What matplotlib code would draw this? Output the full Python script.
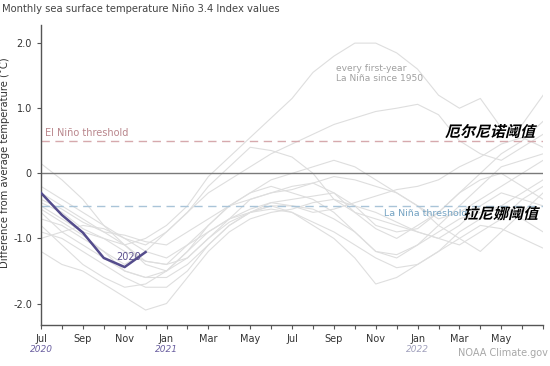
import numpy as np
import matplotlib.pyplot as plt
from matplotlib.textpath import TextPath
from matplotlib.patches import PathPatch
from matplotlib.font_manager import FontProperties
from matplotlib.transforms import Affine2D

plt.rcParams['font.family'] = ['DejaVu Sans', 'Noto Sans CJK SC']

# months since Jul 2020 (0 .. 24)
months = np.arange(25)
tick_labels = ['Jul', 'Sep', 'Nov', 'Jan', 'Mar', 'May',
               'Jul', 'Sep', 'Nov', 'Jan', 'Mar', 'May']
year_labels = {0: '2020', 6: '2021', 18: '2022'}

# 2020 La Nina (Jul-Dec 2020)
nino_2020 = [-0.30, -0.64, -0.91, -1.30, -1.44, -1.21]

# every first-year La Nina since 1950 (approximate)
past_years = [
    [-0.50, -0.70, -0.90, -1.00, -1.10, -1.00, -0.80, -0.50, -0.05, 0.25, 0.55, 0.85,
     1.15, 1.55, 1.80, 2.00, 2.00, 1.85, 1.60, 1.20, 1.00, 1.15, 0.70, 0.75, 1.20],
    [-0.20, -0.40, -0.60, -0.80, -1.00, -1.10, -0.90, -0.60, -0.30, -0.10, 0.10, 0.30,
     0.45, 0.60, 0.75, 0.85, 0.95, 1.00, 1.06, 0.90, 0.50, 0.30, 0.20, 0.40, 0.60],
    [-0.70, -0.80, -1.00, -1.20, -1.40, -1.20, -0.90, -0.60, -0.20, 0.10, 0.40, 0.35,
     0.25, 0.00, -0.40, -0.60, -0.70, -0.80, -0.90, -1.00, -1.10, -0.90, -0.70, -0.40, -0.20],
    [0.15, -0.10, -0.40, -0.80, -1.10, -1.40, -1.50, -1.20, -0.80, -0.50, -0.30, -0.20,
     -0.30, -0.40, -0.60, -0.90, -1.20, -1.30, -1.10, -0.80, -0.50, -0.20, 0.10, 0.20, 0.30],
    [-0.40, -0.55, -0.75, -0.90, -0.95, -1.05, -1.10, -0.90, -0.70, -0.50, -0.40, -0.30,
     -0.25, -0.15, -0.05, -0.10, -0.20, -0.30, -0.50, -0.70, -0.60, -0.40, -0.20, 0.00, 0.20],
    [-0.60, -0.90, -1.10, -1.30, -1.50, -1.60, -1.60, -1.40, -1.10, -0.80, -0.60, -0.50,
     -0.60, -0.80, -1.00, -1.30, -1.70, -1.60, -1.40, -1.20, -0.90, -0.70, -0.50, -0.30, -0.10],
    [-0.80, -1.10, -1.40, -1.60, -1.75, -1.70, -1.50, -1.20, -0.90, -0.70, -0.55, -0.45,
     -0.40, -0.35, -0.30, -0.50, -0.80, -0.90, -0.85, -0.60, -0.30, 0.00, 0.30, 0.50, 0.80],
    [-1.20, -1.40, -1.50, -1.70, -1.90, -2.10, -2.00, -1.60, -1.20, -0.90, -0.70, -0.60,
     -0.55, -0.45, -0.40, -0.50, -0.60, -0.75, -0.90, -1.00, -0.80, -0.50, -0.30, -0.40, -0.50],
    [-0.45, -0.60, -0.85, -1.00, -1.20, -1.35, -1.40, -1.30, -1.00, -0.70, -0.40, -0.30,
     -0.20, -0.15, -0.30, -0.60, -0.85, -1.00, -0.80, -0.60, -0.30, -0.10, 0.00, -0.20, -0.40],
    [-0.90, -1.00, -1.20, -1.40, -1.60, -1.75, -1.75, -1.50, -1.10, -0.80, -0.60, -0.50,
     -0.50, -0.55, -0.70, -0.90, -1.20, -1.25, -1.10, -0.90, -0.70, -0.60, -0.50, -0.70, -0.90],
    [-0.30, -0.50, -0.70, -0.90, -1.10, -1.35, -1.40, -1.10, -0.80, -0.50, -0.30, -0.10,
     0.00, 0.10, 0.20, 0.10, -0.10, -0.30, -0.50, -0.80, -1.00, -1.20, -0.90, -0.60, -0.30],
    [-1.00, -0.90, -0.80, -0.85, -1.00, -1.20, -1.30, -1.10, -0.90, -0.70, -0.60, -0.45,
     -0.50, -0.60, -0.55, -0.45, -0.35, -0.25, -0.20, -0.10, 0.10, 0.25, 0.45, 0.55, 0.40],
    [-0.55, -0.75, -0.95, -1.20, -1.50, -1.60, -1.50, -1.30, -1.00, -0.75, -0.60, -0.55,
     -0.60, -0.75, -0.90, -1.10, -1.30, -1.45, -1.40, -1.20, -1.00, -0.80, -0.85, -1.00, -1.15],
]

el_nino_threshold = 0.5
la_nina_threshold = -0.5

W, H = 550, 366
fig = plt.figure(figsize=(W / 100, H / 100), dpi=100)
ax = fig.add_axes([0.0745, 0.112, 0.913, 0.820])

for vals in past_years:
    ax.plot(months, vals, color='#dedede', lw=0.8, zorder=1)

ax.axhline(0, color='#7a7a7a', lw=1.0, zorder=2)
ax.axhline(el_nino_threshold, color='#d6a9ad', lw=1.0, ls=(0, (6, 4)), zorder=2)
ax.axhline(la_nina_threshold, color='#a9c4d8', lw=1.0, ls=(0, (6, 4)), zorder=2)

ax.plot(months[:len(nino_2020)], nino_2020, color='#544c8c', lw=1.8, zorder=3)
ax.text(3.6, -1.28, '2020', color='#5a4e8c', fontsize=7, ha='left', va='center', zorder=4)

ax.text(0.2, 0.55, 'El Niño threshold', color='#b9868c', fontsize=7, va='bottom')
ax.text(16.4, -0.62, 'La Niña threshold', color='#73a2c2', fontsize=6.8, va='center')
ax.text(14.1, 1.38, 'every first-year\nLa Niña since 1950', color='#a0a0a0',
        fontsize=6.6, va='bottom', linespacing=1.25)


def slanted_label(text, right_px, center_px, size_px=15):
    # 粗体中文，斜切成斜体效果，用图像像素定位（从左上角量）
    prop = FontProperties(family='Noto Sans CJK SC', weight='bold')
    path = TextPath((0, 0), text, size=size_px, prop=prop)
    path = Affine2D().skew_deg(14, 0).transform_path(path)
    ext = path.get_extents()
    dx = right_px - ext.x1
    dy = (H - center_px) - (ext.y0 + ext.y1) / 2
    patch = PathPatch(path, facecolor='black', edgecolor='none',
                      transform=Affine2D().translate(dx, dy), zorder=6)
    fig.add_artist(patch)


slanted_label('厄尔尼诺阈值', 537, 131)
slanted_label('拉尼娜阈值', 540, 213)

ax.set_xlim(0, 24)
ax.set_ylim(-2.33, 2.28)
ax.set_xticks(np.arange(0, 24, 2))
ax.set_xticklabels(tick_labels)
ax.set_xticks(np.arange(0, 25, 1), minor=True)
ax.set_yticks([2, 1, 0, -1, -2])
ax.set_yticklabels(['2.0', '1.0', '0', '-1.0', '-2.0'])

for s in ['top', 'right']:
    ax.spines[s].set_visible(False)
for s in ['left', 'bottom']:
    ax.spines[s].set_color('#555555')
    ax.spines[s].set_linewidth(1.0)
ax.tick_params(axis='both', colors='#555555', labelcolor='#333333', labelsize=7,
               length=3, width=0.8)
ax.tick_params(axis='x', which='minor', length=3, width=0.8, colors='#555555')

for m, yr in year_labels.items():
    c = '#6a5fa0' if yr != '2022' else '#a0a0bc'
    ax.text(m, -2.7, yr, color=c, fontsize=6.5, style='italic', ha='center', va='center',
            clip_on=False)

ax.set_ylabel('Difference from average temperature (˚C)', fontsize=7.2, color='#333333')
ax.yaxis.set_label_coords(-0.062, 0.54)

fig.text(0.003, 0.975, 'Monthly sea surface temperature Niño 3.4 Index values',
         fontsize=7.2, color='#444444', va='center')
fig.text(0.997, 0.035, 'NOAA Climate.gov', fontsize=7, color='#a8a8a8',
         ha='right', va='center')

fig.savefig('out.png', dpi=100)
